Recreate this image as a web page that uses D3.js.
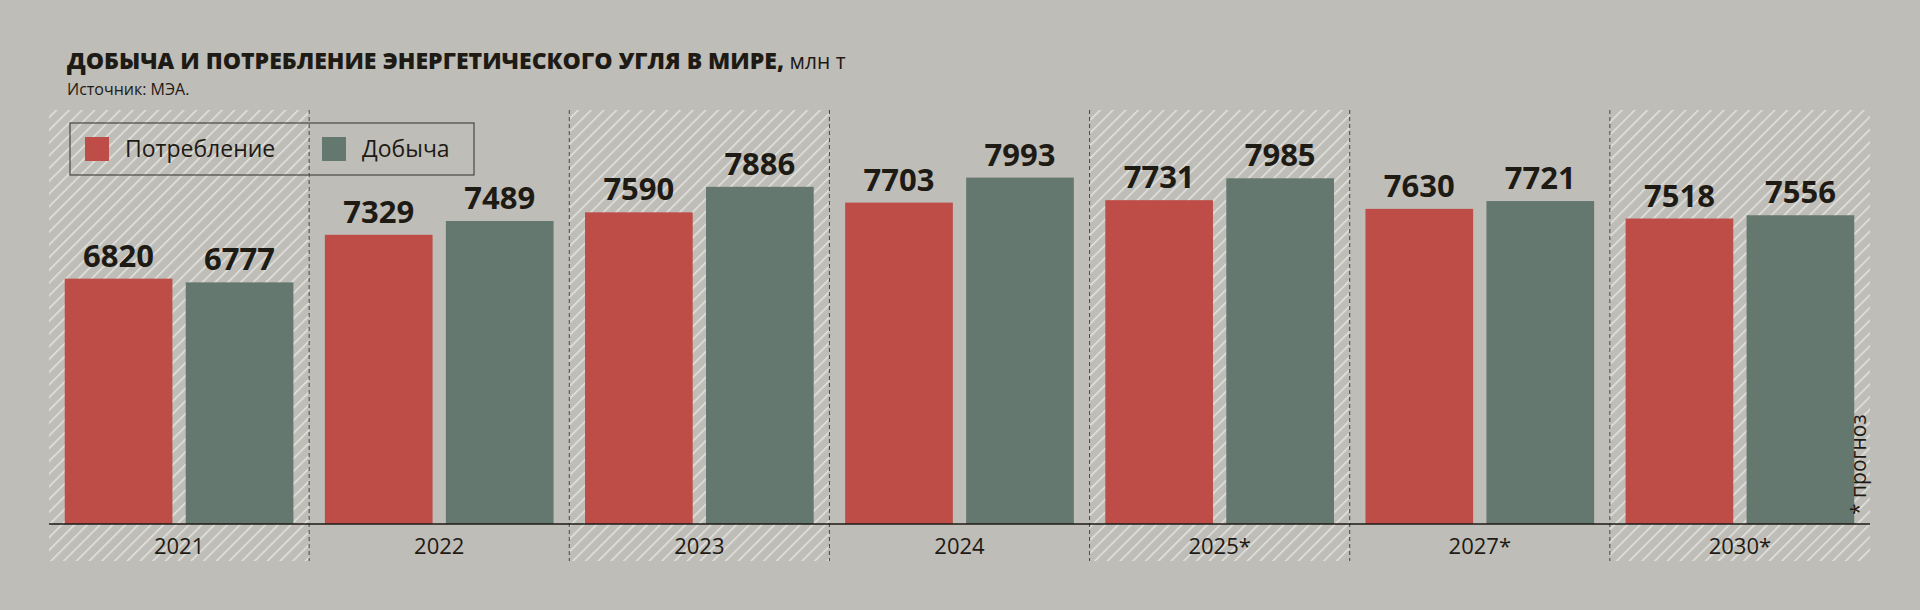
<!DOCTYPE html><html><head><meta charset="utf-8">
<script src="https://cdn.jsdelivr.net/npm/d3@7"></script>
<style>body{margin:0;background:#bebdb8}text{font-family:"Open Sans",sans-serif;fill:#1e1a14}</style></head><body>
<svg id="c" width="1920" height="610"></svg>
<script>
const categories=["2021","2022","2023","2024","2025*","2027*","2030*"];
const consumption=[6820,7329,7590,7703,7731,7630,7518];
const production=[6777,7489,7886,7993,7985,7721,7556];
const hatched=[true,false,true,false,true,false,true];
const seriesNames=["Потребление","Добыча"];
const colors=["#bf4d47","#657870"];
const svg=d3.select("#c");
const defs=svg.append("defs");
const pat=defs.append("pattern").attr("id","h").attr("width",9).attr("height",9).attr("patternUnits","userSpaceOnUse").attr("patternTransform","rotate(45)");
pat.append("line").attr("x1",0).attr("y1",0).attr("x2",0).attr("y2",9).attr("stroke","#e4e3df").attr("stroke-width",3);
const x=d3.scaleBand().domain(categories).range([49,1870]);
const y=d3.scaleLinear().domain([3972,8000]).range([524,177]);
const x1=d3.scaleBand().domain([0,1]).range([0,x.bandwidth()]).paddingInner(0.11).paddingOuter(0.13);
const panelTop=110,panelBottom=561;
svg.selectAll(".hb").data(categories.filter((c,i)=>hatched[i])).enter().append("rect")
 .attr("x",d=>x(d)).attr("y",panelTop).attr("width",x.bandwidth()).attr("height",panelBottom-panelTop).attr("fill","url(#h)");
svg.selectAll(".dv").data(categories.slice(1)).enter().append("line")
 .attr("x1",d=>x(d)).attr("x2",d=>x(d)).attr("y1",panelTop).attr("y2",panelBottom).attr("stroke","#4a4640").attr("stroke-dasharray","4,3");
const data=categories.map((c,i)=>[consumption[i],production[i]]);
categories.forEach((c,i)=>{
 data[i].forEach((v,j)=>{
  svg.append("rect").attr("x",x(c)+x1(j)).attr("y",y(v)).attr("width",x1.bandwidth()).attr("height",y.range()[0]-y(v)).attr("fill",colors[j]);
  svg.append("text").attr("x",x(c)+x1(j)+x1.bandwidth()/2).attr("y",y(v)-12).attr("text-anchor","middle").attr("font-size",31).attr("font-weight",700).text(v);
 });
});
svg.append("line").attr("x1",49).attr("x2",1870).attr("y1",524).attr("y2",524).attr("stroke","#1e1a14").attr("stroke-width",1.5);
const ax=svg.append("g").attr("transform","translate(0,524)").call(d3.axisBottom(x).tickSize(0).tickPadding(10));
ax.select(".domain").remove();
ax.selectAll("text").attr("font-size",22).style("font-family","'Open Sans',sans-serif").attr("fill","#1e1a14").attr("dy","0.9em");
svg.append("rect").attr("x",70).attr("y",123).attr("width",404).attr("height",52).attr("fill","none").attr("stroke","#4a4640").attr("stroke-width",1.2);
const lx=[85,322];
seriesNames.forEach((n,j)=>{
 svg.append("rect").attr("x",lx[j]).attr("y",137).attr("width",24).attr("height",24).attr("fill",colors[j]);
 svg.append("text").attr("x",lx[j]+40).attr("y",157).attr("font-size",23).text(n);
});
const t=svg.append("text").attr("x",67).attr("y",69).attr("font-size",23);
t.append("tspan").attr("font-weight",800).text("ДОБЫЧА И ПОТРЕБЛЕНИЕ ЭНЕРГЕТИЧЕСКОГО УГЛЯ В МИРЕ,");
t.append("tspan").attr("font-size",21).text(" млн т");
svg.append("text").attr("x",67).attr("y",95).attr("font-size",16).text("Источник: МЭА.");
svg.append("text").attr("transform","translate(1866,515) rotate(-90)").attr("font-size",21).text("* прогноз");
</script></body></html>
